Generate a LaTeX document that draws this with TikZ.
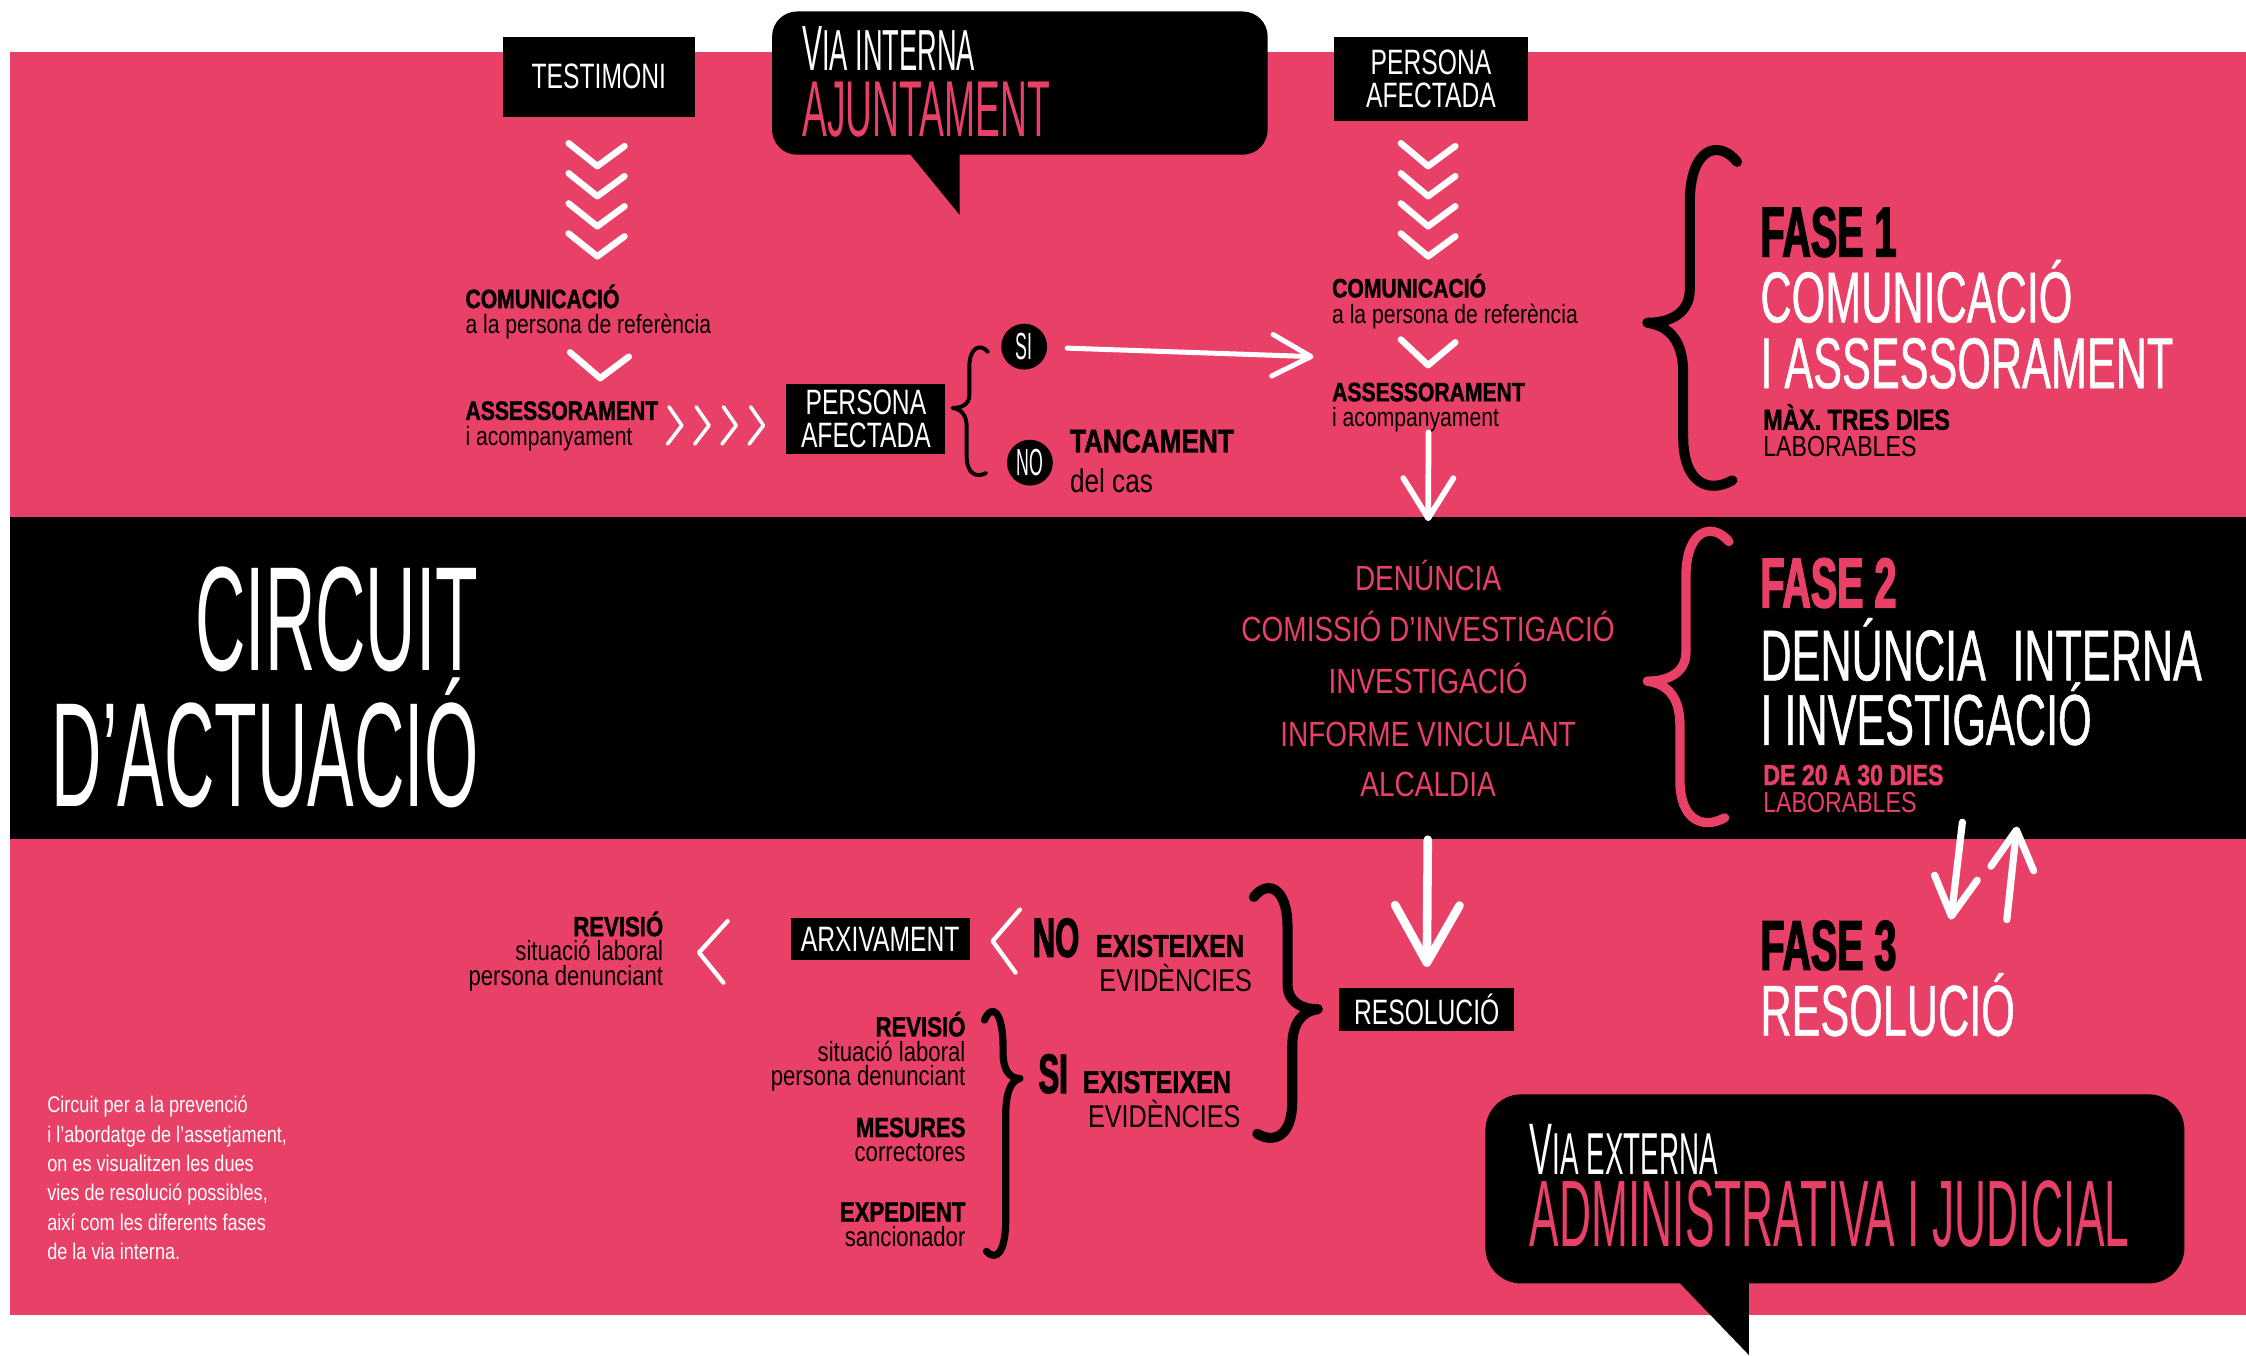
\documentclass[tikz,border=0pt]{standalone}
\usepackage{fontspec}
\setmainfont{Liberation Sans}
\newfontfamily\bodyfont[FakeStretch=0.8]{Liberation Sans}
\newfontfamily\strongfont[FakeStretch=0.8,FakeBold=1.4]{Liberation Sans}
\newfontfamily\boxfont[FakeStretch=0.7]{Liberation Sans}
\newfontfamily\titlefont[FakeStretch=0.6,FakeBold=0.6]{Liberation Sans}
\newfontfamily\heavyfont[FakeStretch=0.56,FakeBold=2]{Liberation Sans}
\newfontfamily\handfont[FakeStretch=0.47]{Liberation Sans}
\usetikzlibrary{arrows.meta}
\definecolor{rosa}{RGB}{232,64,102}
\newcommand{\negreta}[1]{{\strongfont\bfseries #1}}

\begin{document}
\begin{tikzpicture}[
  x=0.2mm, y=-0.2mm,
  every node/.style={inner sep=0pt, outer sep=0pt},
  box/.style={fill=black, text=white, align=center, font=\boxfont\fontsize{14}{13.1}\selectfont},
  txt/.style={anchor=base west, align=left, font=\bodyfont\fontsize{10.5}{10.2}\selectfont},
  txtr/.style={anchor=base east, align=right, font=\bodyfont\fontsize{11}{9.8}\selectfont},
  pinkitem/.style={anchor=base, text=rosa, font=\bodyfont\fontsize{13.9}{14}\selectfont},
  fase/.style={anchor=base west, font=\heavyfont\bfseries\fontsize{28}{28}\selectfont},
  fasetitle/.style={anchor=base west, text=white, font=\titlefont\fontsize{28.6}{28}\selectfont},
  dies/.style={anchor=base west, align=left, font=\bodyfont\fontsize{11.5}{10.8}\selectfont},
  hand/.style={anchor=base west, font=\handfont\fontsize{#1}{#1}\selectfont},
  circ/.style={circle, fill=black, text=white, minimum size=6.4mm, font=\handfont\fontsize{15}{15}\selectfont},
  chev/.style={white, line width=0.9mm, line cap=round, line join=round},
  chevthin/.style={white, line width=0.5mm, line cap=round, line join=round},
  arrow/.style={white, line width=#1, line cap=round},
  pics/curly/.style={code={
    \draw[line cap=round, line join=round]
      (0.95,0.03) .. controls (0.75,-0.04) and (0.45,-0.01) .. (0.45,0.15)
      -- (0.45,#1-0.1) .. controls (0.45,#1-0.03) and (0.25,#1) .. (0,#1)
      .. controls (0.25,#1+0.01) and (0.38,#1+0.06) .. (0.38,#1+0.15)
      -- (0.38,0.85) .. controls (0.38,0.99) and (0.65,1.02) .. (0.9,0.98);
  }}
]
\useasboundingbox (0,0) rectangle (1568,946);

% bands
\fill[rosa] (7,36) rectangle (1568,918);
\fill[black] (7,361) rectangle (1568,586);

% via interna
\fill[rounded corners=3.5mm] (539,8) rectangle (885,108);
\fill (634,106) -- (670,150) -- (670,106) -- cycle;
\node (viaInt) [hand=23, text=white] at (560,49) {{\fontsize{25.4}{26}\selectfont V}IA INTERNA};
\node (ajunt) [hand=31.5, text=rosa] at (560,95) {AJUNTAMENT};

% fase 1, left column
\node (testim) [box, minimum width=26.8mm, minimum height=11.2mm] at (418,53.5) {TESTIMONI};
\foreach \y in {100,121,142,163} {
  \draw[chev] (397,\y) -- (417,\y+16) -- (436,\y+2);
  \draw[chev] (978,\y) -- (997,\y+16) -- (1016,\y+2);
}
\node (comL) [txt] at (325,233) {\negreta{COMUNICACIÓ}\\a la persona de referència};
\draw[chev] (398,246) -- (419,264) -- (439,249);
\node (assL) [txt] at (325,311) {\negreta{ASSESSORAMENT}\\i acompanyament};
\foreach \x in {466,485,504,523}
  \draw[chevthin] (\x+1,284) -- (\x+10,297) -- (\x,310);
\node (afecM) [box, minimum width=22.2mm, minimum height=9.8mm] at (604.5,292.5) {PERSONA\\AFECTADA};
\pic[xscale=26, yscale=89, line width=0.55mm] at (665,243) {curly=0.47};
\node (si) [circ] at (715,242) {SI};
\node (no) [circ] at (719,323) {NO};
\node (tanc) [txt, font=\bodyfont\fontsize{13}{16}\selectfont] at (747,344) {\negreta{TANCAMENT}\\del cas};
\coordinate (siEnd) at (917,249);
\draw[arrow=0.7mm, -{Straight Barb[length=5.4mm,width=5.8mm,round]}, shorten <=2.8mm] (si) -- (siEnd);

% fase 1, right column
\node (afecT) [box, minimum width=27.2mm, minimum height=11.8mm] at (999,55) {PERSONA\\AFECTADA};
\node (comR) [txt] at (930,225.5) {\negreta{COMUNICACIÓ}\\a la persona de referència};
\draw[chev] (978,237) -- (997,255) -- (1016,239);
\node (assR) [txt] at (930,298) {\negreta{ASSESSORAMENT}\\i acompanyament};

\pic[xscale=66, yscale=234, line width=1.4mm] at (1150,106) {curly=0.51};
\node (fase1) [fase] at (1229,179) {FASE 1};
\node (fase1a) [fasetitle] at (1229,225) {COMUNICACIÓ};
\node (fase1b) [fasetitle] at (1229,271) {I ASSESSORAMENT};
\node (dies1) [dies] at (1231,319) {\negreta{MÀX. TRES DIES}\\LABORABLES};

% fase 2
\node (circuit) [anchor=base east, align=right, text=white, font=\handfont\fontsize{59}{54}\selectfont] at (334,563) {CIRCUIT\\D’ACTUACIÓ};
\node (denuncia) [pinkitem] at (997,412) {DENÚNCIA};
\node (comissio) [pinkitem] at (997,448) {COMISSIÓ D’INVESTIGACIÓ};
\node (investig) [pinkitem] at (997,484) {INVESTIGACIÓ};
\node (informe) [pinkitem] at (997,521) {INFORME VINCULANT};
\node (alcaldia) [pinkitem] at (997,556) {ALCALDIA};
\draw[arrow=0.8mm, -{Straight Barb[length=5.6mm,width=7mm,round]}, shorten >=5.4mm] (assR.south) -- (denuncia.north);

\pic[xscale=60, yscale=203, line width=1.3mm, rosa] at (1150,372) {curly=0.51};
\node (fase2) [fase, text=rosa] at (1229,424) {FASE 2};
\node (fase2a) [fasetitle] at (1229,475) {DENÚNCIA\hspace{2mm} INTERNA};
\node (fase2b) [fasetitle] at (1229,520) {I INVESTIGACIÓ};
\node (dies2) [dies, text=rosa] at (1231,567) {\negreta{DE 20 A 30 DIES}\\LABORABLES};

% fase 3
\node (fase3) [fase] at (1229,677) {FASE 3};
\node (fase3a) [fasetitle] at (1229,723) {RESOLUCIÓ};
\coordinate (dnA) at (1370,574);
\coordinate (dnB) at (1362,642);
\coordinate (upA) at (1401,642);
\coordinate (upB) at (1408,577);
\draw[arrow=1mm, -{Straight Barb[length=5.4mm,width=6mm,round]}] (dnA) -- (dnB);
\draw[arrow=1mm, -{Straight Barb[length=5.4mm,width=6mm,round]}] (upA) -- (upB);

\node (resol) [box, minimum width=24.4mm, minimum height=6mm] at (996,705) {RESOLUCIÓ};
\draw[arrow=1.2mm, -{Straight Barb[length=8mm,width=9mm,round]}, shorten <=6mm, shorten >=3mm] (alcaldia.south) -- (resol.north);
\pic[xscale=-47, yscale=174, line width=1.4mm] at (920,621) {curly=0.48};

% no existeixen
\node (noev) [anchor=base west, font=\heavyfont\bfseries\fontsize{22}{22}\selectfont] at (721,668) {NO};
\node (noevA) [anchor=base west, font=\fontsize{12.5}{12}\selectfont] at (765,668) {\negreta{EXISTEIXEN}};
\node (noevB) [anchor=base east, font=\bodyfont\fontsize{12.5}{12}\selectfont] at (874,692) {EVIDÈNCIES};
\draw[chevthin, line width=0.6mm] (712,635) -- (693,657) -- (709,679);
\node (arxiv) [box, minimum width=25mm, minimum height=5.8mm] at (614.5,655.5) {ARXIVAMENT};
\draw[chevthin, line width=0.6mm] (508,643) -- (488,665) -- (505,686);
\node (rev1) [txtr] at (463,688) {\negreta{REVISIÓ}\\situació laboral\\persona denunciant};

% si existeixen
\node (siev) [anchor=base west, font=\heavyfont\bfseries\fontsize{22}{22}\selectfont] at (725,763) {SI};
\node (sievA) [anchor=base west, font=\fontsize{12.5}{12}\selectfont] at (756,763) {\negreta{EXISTEIXEN}};
\node (sievB) [anchor=base east, font=\bodyfont\fontsize{12.5}{12}\selectfont] at (866,787) {EVIDÈNCIES};
\pic[xscale=-26, yscale=170, line width=1mm] at (712,707) {curly=0.27};
\node (rev2) [txtr] at (674,758) {\negreta{REVISIÓ}\\situació laboral\\persona denunciant};
\node (mesures) [txtr] at (674,811) {\negreta{MESURES}\\correctores};
\node (exped) [txtr] at (674,870) {\negreta{EXPEDIENT}\\sancionador};

\node (nota) [anchor=base west, align=left, text=white, font=\bodyfont\fontsize{9}{11.7}\selectfont] at (33,879.5) {Circuit per a la prevenció\\i l’abordatge de l’assetjament,\\on es visualitzen les dues\\vies de resolució possibles,\\així com les diferents fases\\de la via interna.};

% via externa
\fill[rounded corners=5mm] (1037,764) rectangle (1525,896);
\fill (1171,894) -- (1221,946) -- (1221,894) -- cycle;
\node (viaExt) [hand=23.5, text=white] at (1068,820) {{\fontsize{29}{29}\selectfont V}IA EXTERNA};
\node (admin) [hand=37.5, text=rosa] at (1068,870) {ADMINISTRATIVA I JUDICIAL};
\end{tikzpicture}
\end{document}
